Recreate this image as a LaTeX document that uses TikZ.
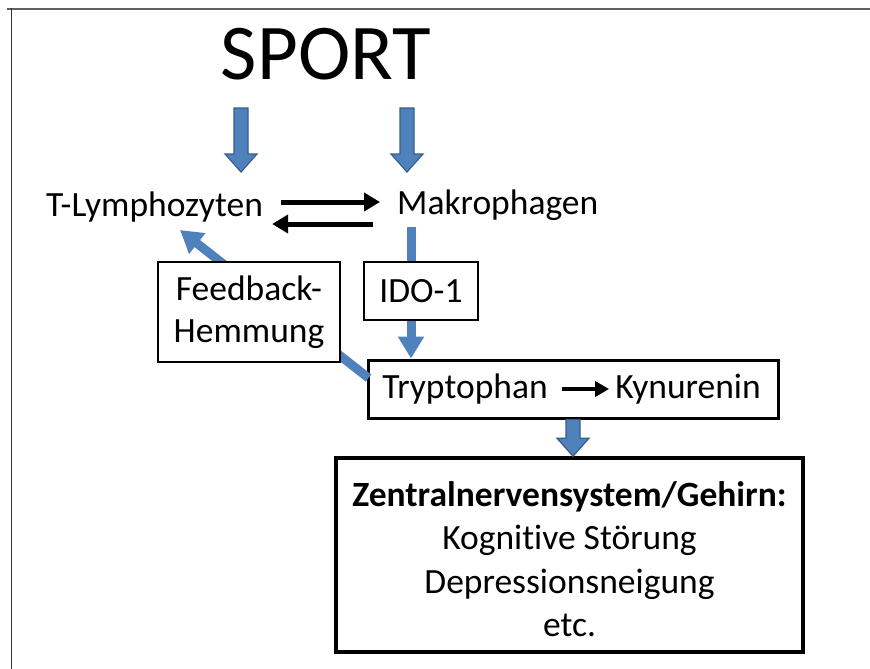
\documentclass[tikz,border=0pt]{standalone}
\usepackage{fontspec}
\setmainfont{Carlito}[Ligatures=NoCommon]
\usepackage{tikz}
\usetikzlibrary{arrows.meta,positioning,calc}
\definecolor{sportblue}{RGB}{79,129,189}
\definecolor{sportedge}{RGB}{56,93,138}
\definecolor{framegray}{RGB}{95,95,95}

\tikzset{
  lbl/.style={inner sep=2pt, font=\fontsize{35.5}{43}\selectfont},
  thinbox/.style={draw, line width=1.5pt, fill=white, align=center, inner sep=0pt, font=\fontsize{35.5}{42}\selectfont},
  thickbox/.style={draw, line width=3pt, fill=white, align=center, inner sep=0pt, font=\fontsize{35.5}{43.5}\selectfont},
  xarrow/.style={line width=5pt, -{Triangle[length=16pt,width=18pt]}},
  blueline/.style={sportblue, line width=9pt},
  bluearrow/.style={blueline, -{Triangle[length=22pt,width=25pt]}},
  blockarrow/.style={fill=sportblue, draw=sportedge, line width=1.2pt, line join=miter}
}
% vertical block arrow: #1 top, #2 tip
\newcommand{\blockarrow}[2]{%
  \filldraw[blockarrow] ($(#1)+(-7,0)$) -- ($(#2)+(-7,-18)$) -- ($(#2)+(-16,-18)$)
    -- (#2) -- ($(#2)+(16,-18)$) -- ($(#2)+(7,-18)$) -- ($(#1)+(7,0)$) -- cycle;}

\begin{document}
\begin{tikzpicture}[x=1pt, y=-1pt]
 \useasboundingbox (0,0) rectangle (870,669);
 % frame
 \draw[framegray, line width=2.5pt] (7,9) -- (870,9);
 \draw[black!80, line width=1.5pt] (11.5,8) -- (11.5,669);

 % top row
 \node[anchor=base, inner sep=0pt, font=\fontsize{79}{90}\selectfont] (sport) at (326,80) {SPORT};
 \node[lbl, anchor=base west] (tly) at (44,216) {T-Lymphozyten};
 \node[lbl, anchor=base west] (mak) at (395,214) {Makrophagen};

 \coordinate (sl) at (241,108);
 \coordinate (slt) at (241,172);
 \coordinate (sr) at (407,108);
 \coordinate (srt) at (407,172);
 \blockarrow{sl}{slt}
 \blockarrow{sr}{srt}

 % exchange
 \draw[xarrow] ($(tly.base east)+(16,-14)$) -- ($(mak.base west)+(-15,-12)$);
 \draw[xarrow] ($(mak.base west)+(-22,10)$) -- ($(tly.base east)+(7,8)$);

 % boxes
 \node[thinbox, minimum width=114, minimum height=58] (ido) at (421,291) {IDO-1};
 \node[thickbox, minimum width=410, minimum height=58] (tk) at (573,389) {};
 \node[lbl] (trp) at (465,389) {Tryptophan};
 \node[lbl] (kyn) at (688,389) {Kynurenin};
 \draw[line width=4pt, -{Triangle[length=14pt,width=15pt]}, shorten <=12pt, shorten >=4pt] (trp) -- (kyn);

 % feedback, behind its box
 \coordinate (fbtip) at (180,230);
 \draw[bluearrow] ($(tk.west)+(2,-11)$) -- (fbtip);
 \node[thinbox, minimum width=182, minimum height=100] (fb) at (249,312) {Feedback-\\Hemmung};

 % IDO-1 path
 \draw[blueline] ($(ido.north)+(-10,-34)$) -- ($(ido.north)+(-10,0)$);
 \draw[bluearrow] ($(ido.south)+(-10,0)$) -- ($(ido.south |- tk.north)+(-10,0)$);

 % CNS
 \node[thickbox, line width=3.5pt, minimum width=467, minimum height=194] (zns) at (569.5,555) {};
 \node[lbl, align=center, font=\fontsize{35.5}{43.5}\selectfont] (znstxt) at (569.5,559)
   {\textbf{Zentralnervensystem/Gehirn:}\\Kognitive Störung\\Depressionsneigung\\etc.};
 \blockarrow{tk.south}{tk.south |- zns.north}
\end{tikzpicture}
\end{document}
